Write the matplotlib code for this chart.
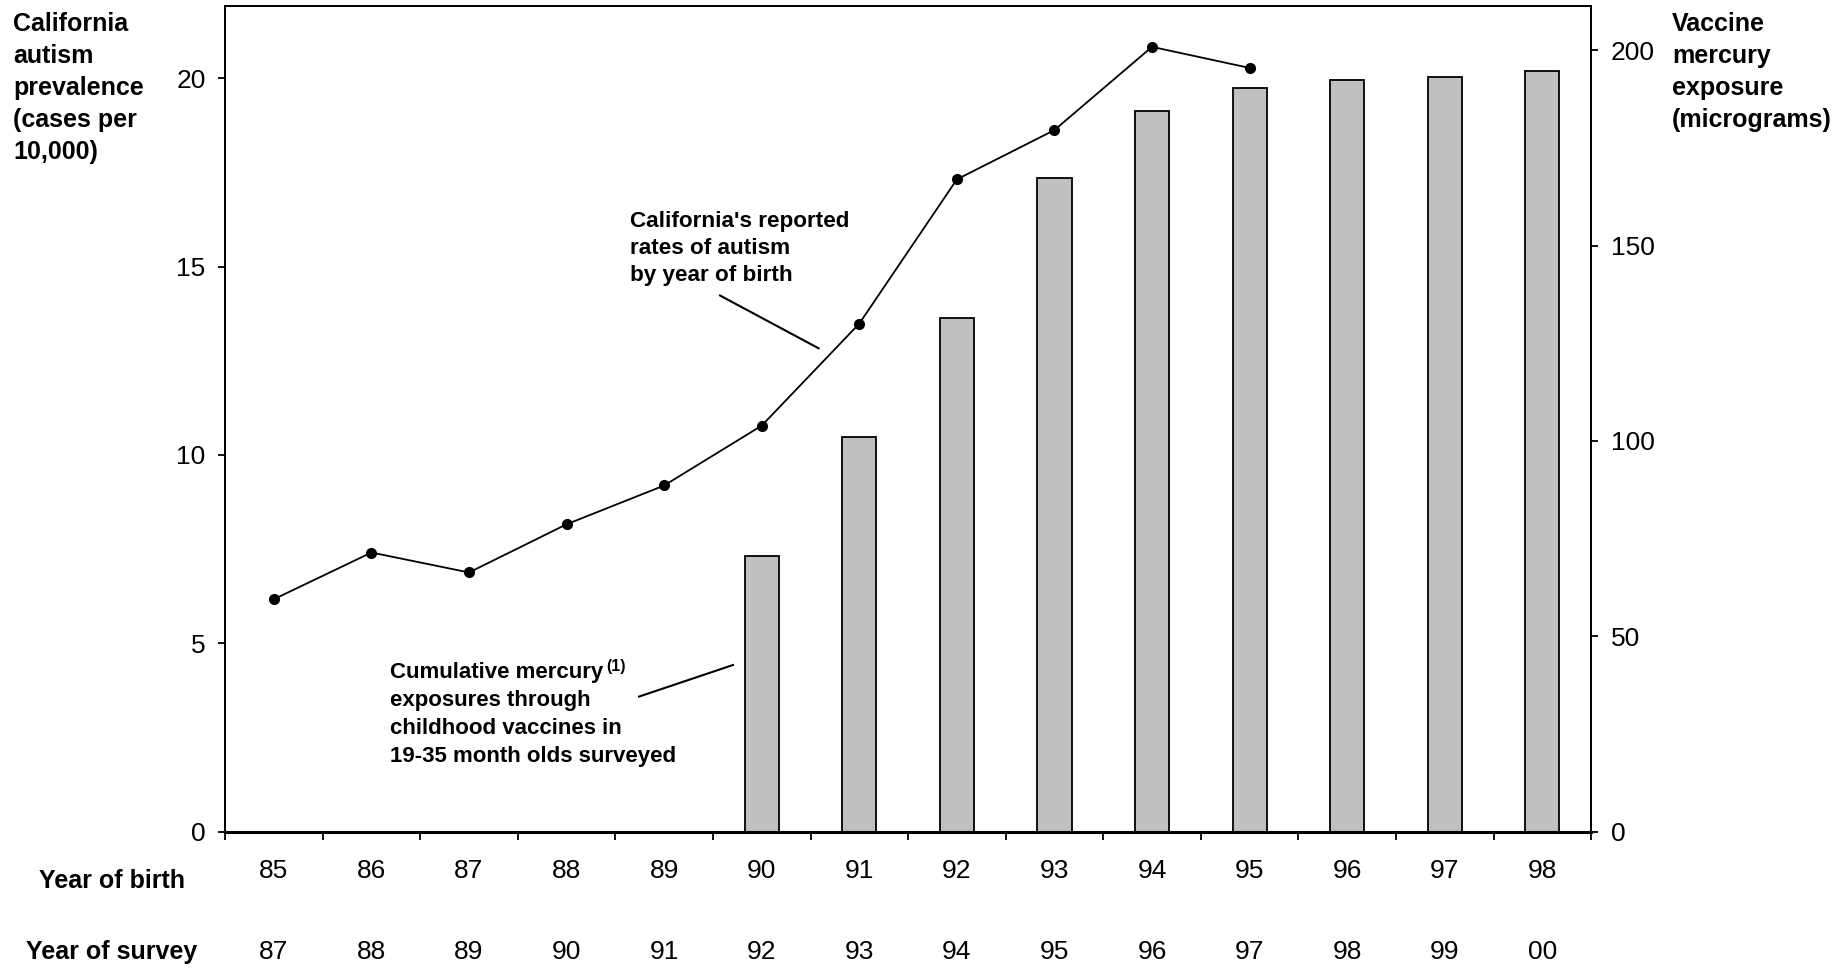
import numpy as np
import matplotlib.pyplot as plt
from matplotlib.ticker import FixedLocator, NullFormatter
import matplotlib.transforms as mtransforms

# data
birth_years = ['85', '86', '87', '88', '89', '90', '91', '92', '93', '94', '95', '96', '97', '98']
survey_years = ['87', '88', '89', '90', '91', '92', '93', '94', '95', '96', '97', '98', '99', '00']
autism_rate = [6.17, 7.41, 6.88, 8.16, 9.19, 10.78, 13.49, 17.32, 18.63, 20.84, 20.28]
mercury = [0, 0, 0, 0, 0, 70.6, 100.9, 131.5, 167.3, 184.4, 190.4, 192.5, 193.1, 194.6]

plt.rcParams['font.family'] = ['Liberation Sans', 'DejaVu Sans']

narrow = ['Liberation Sans Narrow', 'Liberation Sans', 'DejaVu Sans']

fig = plt.figure(figsize=(18.39, 9.68), dpi=100)
ax1 = fig.add_axes([0.1224, 0.141, 0.7428, 0.853])
ax2 = ax1.twinx()
ax1.set_zorder(ax2.get_zorder() + 1)
ax1.patch.set_visible(False)

x = np.arange(len(birth_years))

# bars: cumulative mercury exposure (right axis)
bars = [(i, v) for i, v in zip(x, mercury) if v > 0]
ax2.bar([b[0] for b in bars], [b[1] for b in bars], width=0.35,
        color='#C0C0C0', edgecolor='black', linewidth=1.3, zorder=2)

# line: autism prevalence (left axis)
ax1.plot(x[:len(autism_rate)], autism_rate, color='black', lw=1.3,
         marker='o', markersize=7, zorder=3)

ax1.set_xlim(-0.5, 13.5)
ax1.set_ylim(0, 21.93)
ax2.set_ylim(0, 211.4)

ax1.set_yticks([0, 5, 10, 15, 20])
ax2.set_yticks([0, 50, 100, 150, 200])
ax1.xaxis.set_major_locator(FixedLocator(np.arange(-0.5, 14, 1)))
ax1.xaxis.set_major_formatter(NullFormatter())
ax1.xaxis.set_minor_locator(FixedLocator(x))
ax1.set_xticklabels(birth_years, minor=True)
ax1.tick_params(axis='x', which='major', direction='out', length=6, width=1.3)
ax1.tick_params(axis='x', which='minor', length=0, pad=20, labelsize=19)
ax1.tick_params(axis='y', direction='out', length=5, width=1.3, pad=9, labelsize=19)
ax2.tick_params(axis='y', direction='out', length=5, width=1.3, pad=9, labelsize=19)
for lab in ax1.get_xticklabels(minor=True) + ax1.get_yticklabels() + ax2.get_yticklabels():
    lab.set_family(narrow)

for ax in (ax1, ax2):
    for s in ax.spines.values():
        s.set_linewidth(1.3)
ax1.spines['bottom'].set_linewidth(2.2)

# year of survey row
trans = mtransforms.blended_transform_factory(ax1.transData, fig.transFigure)
for xi, lab in zip(x, survey_years):
    ax1.text(xi, 1 - 952 / 968, lab, transform=trans, ha='center', va='center',
             fontsize=19, family=narrow)

fig.text(112 / 1839, 1 - 881 / 968, 'Year of birth', ha='center', va='center',
         fontsize=18, fontweight='bold')
fig.text(112 / 1839, 1 - 952 / 968, 'Year of survey', ha='center', va='center',
         fontsize=18, fontweight='bold')

fig.text(13 / 1839, 1 - 12 / 968, 'California\nautism\nprevalence\n(cases per\n10,000)',
         ha='left', va='top', fontsize=18, fontweight='bold', linespacing=1.42)
fig.text(1672 / 1839, 1 - 12 / 968, 'Vaccine\nmercury\nexposure\n(micrograms)',
         ha='left', va='top', fontsize=18, fontweight='bold', linespacing=1.42)

# annotations
fig.text(630 / 1839, 1 - 211 / 968, "California's reported\nrates of autism\nby year of birth",
         ha='left', va='top', fontsize=16.2, fontweight='bold', linespacing=1.38)
fig.add_artist(plt.Line2D([720 / 1839, 818.6 / 1839], [1 - 295.5 / 968, 1 - 348.3 / 968],
                          color='black', lw=1.5))

fig.text(390.5 / 1839, 1 - 662 / 968, 'Cumulative mercury',
         ha='left', va='top', fontsize=16, fontweight='bold')
fig.text(606 / 1839, 1 - 659 / 968, '(1)', ha='left', va='top',
         fontsize=11.5, fontweight='bold')
fig.text(390.5 / 1839, 1 - 690 / 968,
         'exposures through\nchildhood vaccines in\n19-35 month olds surveyed',
         ha='left', va='top', fontsize=16, fontweight='bold', linespacing=1.43)
fig.add_artist(plt.Line2D([639 / 1839, 733 / 1839], [1 - 696.6 / 968, 1 - 665 / 968],
                          color='black', lw=1.5))

fig.savefig('out.png', dpi=100)
